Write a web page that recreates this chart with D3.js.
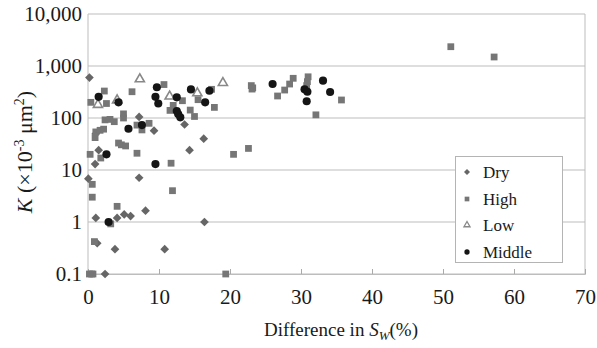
<!DOCTYPE html>
<html><head><meta charset="utf-8">
<script src="https://cdn.jsdelivr.net/npm/d3@7"></script>
<style>
html,body{margin:0;padding:0;background:#fff;}
</style></head>
<body><svg id="chart" width="597" height="348"></svg>
<script>
// ---- data ----
const seriesNames = ["Dry", "High", "Low", "Middle"];
const dryX = [0.2, 7.2, 9.3, 1.1, 1.5, 1.0, 13.6, 16.3, 14.3, 0.05, 7.2, 1.1, 4.1, 5.1, 6.0, 8.1, 16.4, 1.3, 3.8, 10.8, 2.4];
const dryY = [600, 105, 57, 50, 24, 13, 75, 40, 24, 6.8, 7.1, 1.2, 1.2, 1.4, 1.3, 1.65, 1.0, 0.39, 0.3, 0.3, 0.1];
const highX = [0.4, 2.3, 2.6, 6.2, 10.7, 2.4, 3.1, 3.7, 5.0, 5.0, 1.1, 1.7, 2.2, 1.0, 6.9, 7.6, 8.6, 4.3, 4.7, 5.3,
  0.3, 1.8, 6.9, 11.7, 0.6, 0.6, 11.9, 4.1, 3.2, 0.9, 0.2, 0.5, 0.7, 19.4, 20.5, 22.6, 23.0, 23.2, 23.1,
  11.55, 12.0, 13.3, 14.4, 15.0, 15.5, 17.4, 17.8, 26.7, 27.7, 28.4, 28.9, 31.0, 30.9, 30.8, 32.1, 35.7, 51.1, 57.2];
const highY = [200, 330, 190, 320, 440, 92, 94, 85, 120, 100, 54, 58, 61, 42, 73, 59, 79, 33, 30.5, 29,
  20, 17, 21, 13.5, 5.3, 3.0, 4.0, 2.0, 0.92, 0.42, 0.1, 0.1, 0.1, 0.1, 20, 26, 420, 380, 360,
  140, 175, 215, 142, 107, 225, 356, 160, 265, 345, 450, 580, 620, 500, 420, 115, 222, 2350, 1490];
const lowX = [1.4, 4.1, 7.3, 11.5, 15.4, 19.0];
const lowY = [180, 220, 560, 260, 300, 475];
const midX = [1.5, 4.3, 5.7, 7.6, 2.6, 2.9, 9.5, 9.7, 9.5, 9.9, 12.5, 12.5, 12.7, 13.0, 14.5, 16.5, 17.1, 26.0, 30.5, 30.9, 30.8, 33.1, 34.1];
const midY = [255, 200, 62, 73, 20, 1.0, 13, 390, 255, 190, 250, 136, 119, 103, 355, 200, 335, 450, 356, 320, 210, 522, 316];
const xTicks = [0, 10, 20, 30, 40, 50, 60, 70];
const yTicks = [0.1, 1, 10, 100, 1000, 10000];
const yTickLabels = ["0.1", "1", "10", "100", "1,000", "10,000"];

// ---- layout ----
const FONT = "Liberation Serif";
const svg = d3.select("#chart");
const L = 88, R = 585, T = 14, B = 274;
const x = d3.scaleLinear().domain([0, 70]).range([L, R]);
const y = d3.scaleLog().domain([0.1, 10000]).range([B, T]);
const gridCol = "#bdbdbd";

// grid
svg.append("g").selectAll("line").data(yTicks).join("line")
  .attr("x1", L).attr("x2", R).attr("y1", d => y(d)).attr("y2", d => y(d))
  .attr("stroke", gridCol).attr("stroke-width", 1);
svg.append("line").attr("x1", L).attr("x2", L).attr("y1", T).attr("y2", B).attr("stroke", gridCol);
svg.append("line").attr("x1", R).attr("x2", R).attr("y1", T).attr("y2", B).attr("stroke", gridCol);

// x axis
const xAxis = d3.axisBottom(x).tickValues(xTicks).tickSize(-5).tickPadding(15).tickFormat(d3.format("d"));
const gx = svg.append("g").attr("transform", `translate(0,${B})`).call(xAxis);
gx.attr("font-family", FONT).attr("font-size", 21);
gx.select(".domain").attr("stroke", gridCol);
gx.selectAll(".tick line").attr("stroke", "#aaaaaa");
gx.selectAll("text").attr("font-family", FONT).attr("font-size", 21).attr("fill", "#1a1a1a");

// y axis
const yAxis = d3.axisLeft(y).tickValues(yTicks).tickSize(0).tickPadding(6)
  .tickFormat((d, i) => yTickLabels[i]);
const gy = svg.append("g").attr("transform", `translate(${L},0)`).call(yAxis);
gy.attr("font-family", FONT).attr("font-size", 21);
gy.select(".domain").remove();
gy.selectAll("text").attr("font-family", FONT).attr("font-size", 21).attr("fill", "#1a1a1a");

// marks
const symDiamond = d3.symbol().type(d3.symbolSquare).size(38);
const symSquare = d3.symbol().type(d3.symbolSquare).size(46);
const symTri = d3.symbol().type(d3.symbolTriangle).size(36);
const symCircle = d3.symbol().type(d3.symbolCircle).size(52);

function pts(xs, ys) { return xs.map((v, i) => [v, ys[i]]); }

const gm = svg.append("g");
gm.append("g").selectAll("path").data(pts(dryX, dryY)).join("path")
  .attr("d", symDiamond).attr("transform", d => `translate(${x(d[0])},${y(d[1])}) rotate(45)`)
  .attr("fill", "#666666");
gm.append("g").selectAll("path").data(pts(highX, highY)).join("path")
  .attr("d", symSquare).attr("transform", d => `translate(${x(d[0])},${y(d[1])})`)
  .attr("fill", "#767676");
gm.append("g").selectAll("path").data(pts(lowX, lowY)).join("path")
  .attr("d", symTri).attr("transform", d => `translate(${x(d[0])},${y(d[1])})`)
  .attr("fill", "#fff").attr("stroke", "#888888").attr("stroke-width", 1.6);
gm.append("g").selectAll("path").data(pts(midX, midY)).join("path")
  .attr("d", symCircle).attr("transform", d => `translate(${x(d[0])},${y(d[1])})`)
  .attr("fill", "#151515");

// legend
const lg = svg.append("g");
lg.append("rect").attr("x", 455.5).attr("y", 156.5).attr("width", 107).attr("height", 106)
  .attr("fill", "#fff").attr("stroke", "#b4b4b4");
const legY = [172, 199, 225, 252];
const legSyms = [
  g => g.append("path").attr("d", d3.symbol().type(d3.symbolSquare).size(18)()).attr("transform", "rotate(45)").attr("fill", "#666666"),
  g => g.append("path").attr("d", d3.symbol().type(d3.symbolSquare).size(22)()).attr("fill", "#767676"),
  g => g.append("path").attr("d", d3.symbol().type(d3.symbolTriangle).size(16)()).attr("fill", "#fff").attr("stroke", "#888888").attr("stroke-width", 1.3),
  g => g.append("path").attr("d", d3.symbol().type(d3.symbolCircle).size(22)()).attr("fill", "#151515")
];
seriesNames.forEach((n, i) => {
  const g = lg.append("g").attr("transform", `translate(467,${legY[i]})`);
  legSyms[i](g);
  lg.append("text").attr("x", 483).attr("y", legY[i]).attr("dy", "0.35em")
    .attr("font-family", FONT).attr("font-size", 17).attr("fill", "#1a1a1a").text(n);
});

// axis titles
const xt = svg.append("text").attr("x", 341).attr("y", 336).attr("text-anchor", "middle")
  .attr("font-family", FONT).attr("font-size", 19).attr("fill", "#1a1a1a");
xt.append("tspan").text("Difference in ");
xt.append("tspan").attr("font-style", "italic").text("S");
xt.append("tspan").attr("font-style", "italic").attr("font-size", 13).attr("dy", 4).text("W");
xt.append("tspan").attr("dy", -4).text("(%)");

const yt = svg.append("text").attr("transform", "translate(32,152) rotate(-90)").attr("text-anchor", "middle")
  .attr("font-family", FONT).attr("font-size", 22).attr("fill", "#1a1a1a");
yt.append("tspan").attr("font-style", "italic").text("K");
yt.append("tspan").text(" (×10");
yt.append("tspan").attr("font-size", 14).attr("dy", -8).text("-3");
yt.append("tspan").attr("dy", 8).text(" μm");
yt.append("tspan").attr("font-size", 14).attr("dy", -8).text("2");
yt.append("tspan").attr("dy", 8).text(")");
</script>
</body></html>
